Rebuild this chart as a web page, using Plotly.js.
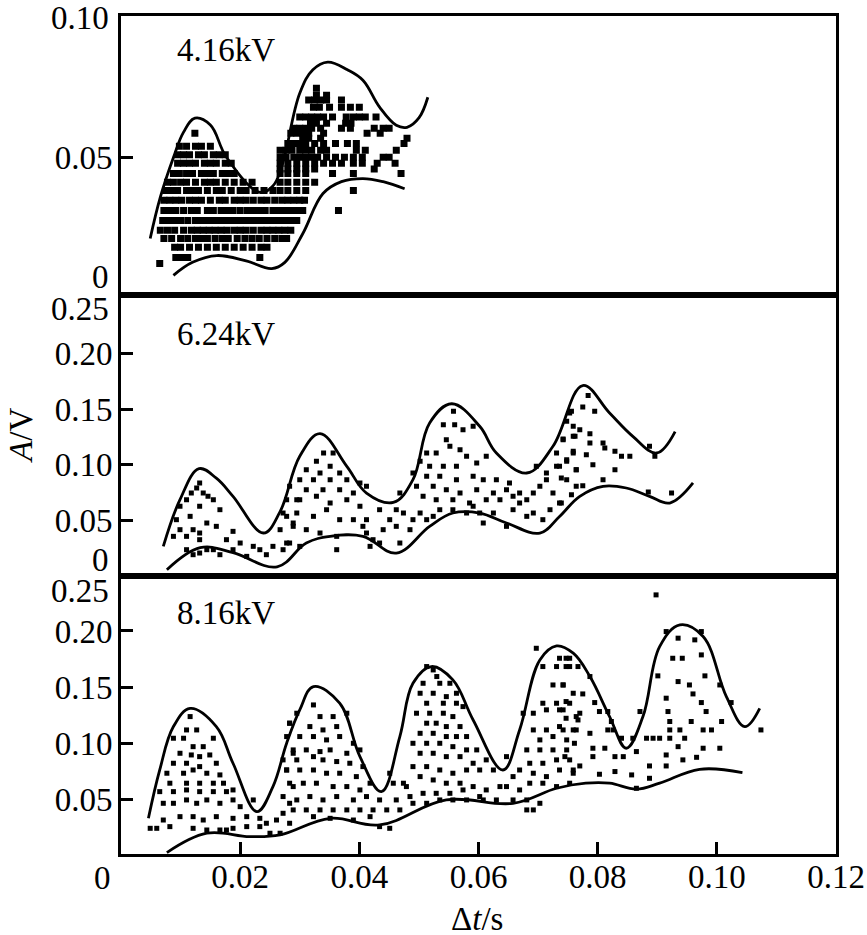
<!DOCTYPE html>
<html>
<head>
<meta charset="utf-8">
<script src="https://cdn.plot.ly/plotly-3.0.1.min.js"></script>
<style>body{margin:0;background:#fff}</style>
</head>
<body>
<div id="chart" style="width:867px;height:935px"></div>
<script>
const FONT = 'Liberation Serif, Times New Roman, serif';

// envelope curves, 4.16 kV
const up416X = [0.0049, 0.0066, 0.0088, 0.0105, 0.0124, 0.0150, 0.0177, 0.0233, 0.0255, 0.0270, 0.0300, 0.0322, 0.0347, 0.0380, 0.0406, 0.0434, 0.0462, 0.0480, 0.0500, 0.0515];
const up416Y = [0.0214, 0.0360, 0.0500, 0.0590, 0.0639, 0.0615, 0.0501, 0.0377, 0.0400, 0.0470, 0.0727, 0.0810, 0.0837, 0.0810, 0.0773, 0.0678, 0.0614, 0.0607, 0.0640, 0.0713];
const lo416X = [0.0088, 0.0120, 0.0161, 0.0210, 0.0253, 0.0275, 0.0305, 0.0339, 0.0370, 0.0406, 0.0440, 0.0476];
const lo416Y = [0.0084, 0.0130, 0.0154, 0.0135, 0.0108, 0.0130, 0.0231, 0.0373, 0.0415, 0.0426, 0.0415, 0.0390];

// envelope curves, 6.24 kV
const up624X = [0.0071, 0.0099, 0.0131, 0.0160, 0.0188, 0.0239, 0.0267, 0.0300, 0.0334, 0.0379, 0.0412, 0.0457, 0.0490, 0.0518, 0.0555, 0.0602, 0.0630, 0.0681, 0.0725, 0.0775, 0.0820, 0.0859, 0.0899, 0.0930];
const up624Y = [0.0266, 0.0687, 0.0966, 0.0880, 0.0717, 0.0387, 0.0580, 0.1077, 0.1282, 0.0987, 0.0747, 0.0662, 0.0867, 0.1377, 0.1550, 0.1347, 0.1107, 0.0927, 0.1167, 0.1714, 0.1467, 0.1257, 0.1107, 0.1300];
const lo624X = [0.0077, 0.0133, 0.0188, 0.0262, 0.0311, 0.0351, 0.0406, 0.0462, 0.0518, 0.0557, 0.0602, 0.0647, 0.0703, 0.0736, 0.0770, 0.0809, 0.0848, 0.0887, 0.0921, 0.0960];
const lo624Y = [0.0056, 0.0255, 0.0210, 0.0083, 0.0297, 0.0357, 0.0357, 0.0207, 0.0447, 0.0567, 0.0567, 0.0477, 0.0387, 0.0536, 0.0717, 0.0807, 0.0792, 0.0717, 0.0657, 0.0837];

// envelope curves, 8.16 kV
const up816X = [0.0046, 0.0065, 0.0088, 0.0116, 0.0160, 0.0188, 0.0228, 0.0255, 0.0278, 0.0300, 0.0323, 0.0367, 0.0401, 0.0437, 0.0468, 0.0490, 0.0521, 0.0557, 0.0591, 0.0641, 0.0669, 0.0703, 0.0731, 0.0759, 0.0787, 0.0820, 0.0848, 0.0876, 0.0904, 0.0938, 0.0977, 0.1016, 0.1047, 0.1072];
const up816Y = [0.0330, 0.0761, 0.1148, 0.1310, 0.1148, 0.0821, 0.0390, 0.0613, 0.1000, 0.1297, 0.1505, 0.1356, 0.0880, 0.0568, 0.1059, 0.1534, 0.1683, 0.1564, 0.1207, 0.0761, 0.1118, 0.1742, 0.1867, 0.1802, 0.1594, 0.1237, 0.0955, 0.1237, 0.1861, 0.2055, 0.1951, 0.1415, 0.1148, 0.1311];
const lo816X = [0.0077, 0.0144, 0.0216, 0.0267, 0.0351, 0.0434, 0.0546, 0.0658, 0.0731, 0.0780, 0.0820, 0.0865, 0.0904, 0.0971, 0.1043];
const lo816Y = [0.0024, 0.0197, 0.0167, 0.0182, 0.0330, 0.0271, 0.0494, 0.0464, 0.0598, 0.0643, 0.0643, 0.0590, 0.0643, 0.0767, 0.0738];

// 4.16 kV measurements, one row per amplitude level: [A, t, t, ...]
const rows416 = [
  [0.0745, 0.0328],
  [0.0720, 0.0328, 0.0345],
  [0.0703, 0.0315, 0.0325, 0.0335, 0.0345, 0.0370],
  [0.0678, 0.0323, 0.0333, 0.0350, 0.0370, 0.0385, 0.0400],
  [0.0643, 0.0300, 0.0310, 0.0320, 0.0330, 0.0340, 0.0355, 0.0378, 0.0390, 0.0400, 0.0410, 0.0428],
  [0.0621, 0.0318, 0.0328, 0.0345, 0.0377, 0.0386],
  [0.0604, 0.0290, 0.0300, 0.0310, 0.0320, 0.0335, 0.0370, 0.0385, 0.0425, 0.0440, 0.0450],
  [0.0586, 0.0124, 0.0285, 0.0295, 0.0305, 0.0315, 0.0340, 0.0413, 0.0435],
  [0.0568, 0.0305, 0.0315, 0.0335, 0.0480],
  [0.0550, 0.0280, 0.0290, 0.0300, 0.0310, 0.0325, 0.0340, 0.0360, 0.0380, 0.0395, 0.0475],
  [0.0540, 0.0098, 0.0110, 0.0125, 0.0135, 0.0150],
  [0.0526, 0.0267, 0.0277, 0.0287, 0.0300, 0.0310, 0.0320, 0.0335, 0.0345, 0.0395, 0.0410, 0.0462],
  [0.0510, 0.0095, 0.0105, 0.0115, 0.0130, 0.0140, 0.0155, 0.0165, 0.0175],
  [0.0501, 0.0267, 0.0277, 0.0290, 0.0300, 0.0310, 0.0320, 0.0330, 0.0345, 0.0360, 0.0375, 0.0390, 0.0405, 0.0440, 0.0450],
  [0.0480, 0.0095, 0.0105, 0.0115, 0.0125, 0.0140, 0.0150, 0.0160, 0.0175, 0.0185, 0.0267, 0.0280, 0.0295, 0.0310, 0.0325, 0.0340, 0.0355, 0.0370, 0.0390, 0.0405, 0.0430, 0.0460],
  [0.0460, 0.0267, 0.0280, 0.0295, 0.0310, 0.0325, 0.0425],
  [0.0444, 0.0088, 0.0098, 0.0110, 0.0120, 0.0135, 0.0145, 0.0155, 0.0170, 0.0180, 0.0190, 0.0267, 0.0280, 0.0295, 0.0310, 0.0355, 0.0390, 0.0470],
  [0.0413, 0.0078, 0.0088, 0.0100, 0.0110, 0.0125, 0.0140, 0.0150, 0.0160, 0.0175, 0.0190, 0.0205, 0.0220, 0.0267, 0.0280, 0.0295, 0.0310, 0.0325],
  [0.0384, 0.0075, 0.0085, 0.0095, 0.0110, 0.0120, 0.0130, 0.0145, 0.0160, 0.0170, 0.0185, 0.0200, 0.0210, 0.0225, 0.0240, 0.0255, 0.0267, 0.0280, 0.0295, 0.0310, 0.0390],
  [0.0349, 0.0072, 0.0082, 0.0092, 0.0102, 0.0115, 0.0125, 0.0135, 0.0150, 0.0165, 0.0175, 0.0190, 0.0200, 0.0210, 0.0222, 0.0235, 0.0245, 0.0258, 0.0270, 0.0280, 0.0290, 0.0300, 0.0308],
  [0.0313, 0.0072, 0.0082, 0.0092, 0.0105, 0.0118, 0.0128, 0.0145, 0.0155, 0.0168, 0.0178, 0.0188, 0.0200, 0.0212, 0.0222, 0.0232, 0.0242, 0.0255, 0.0265, 0.0275, 0.0285, 0.0295, 0.0305, 0.0365],
  [0.0278, 0.0070, 0.0080, 0.0090, 0.0100, 0.0112, 0.0125, 0.0135, 0.0145, 0.0155, 0.0165, 0.0175, 0.0185, 0.0195, 0.0205, 0.0215, 0.0225, 0.0235, 0.0245, 0.0255, 0.0265, 0.0275, 0.0285, 0.0295],
  [0.0243, 0.0066, 0.0078, 0.0090, 0.0105, 0.0118, 0.0128, 0.0138, 0.0148, 0.0158, 0.0168, 0.0178, 0.0190, 0.0200, 0.0210, 0.0222, 0.0235, 0.0245, 0.0255, 0.0265, 0.0275, 0.0285],
  [0.0214, 0.0072, 0.0085, 0.0100, 0.0112, 0.0125, 0.0135, 0.0145, 0.0158, 0.0170, 0.0180, 0.0195, 0.0208, 0.0220, 0.0232, 0.0245, 0.0258, 0.0270, 0.0278],
  [0.0183, 0.0090, 0.0100, 0.0115, 0.0130, 0.0145, 0.0160, 0.0175, 0.0190, 0.0205, 0.0220, 0.0235, 0.0245],
  [0.0147, 0.0092, 0.0102, 0.0112, 0.0233],
  [0.0126, 0.0065]
];

// 6.24 kV measurements [t, A]
const pts624 = [
  [0.0132, 0.0837], [0.0127, 0.0792], [0.0118, 0.0747], [0.0138, 0.0747], [0.0146, 0.0717], [0.0110, 0.0687],
  [0.0155, 0.0687], [0.0099, 0.0627], [0.0132, 0.0627], [0.0166, 0.0597], [0.0093, 0.0507], [0.0116, 0.0537],
  [0.0144, 0.0477], [0.0099, 0.0417], [0.0121, 0.0417], [0.0132, 0.0387], [0.0160, 0.0447], [0.0188, 0.0402],
  [0.0088, 0.0357], [0.0110, 0.0357], [0.0132, 0.0327], [0.0177, 0.0327], [0.0200, 0.0297], [0.0222, 0.0267],
  [0.0155, 0.0237], [0.0188, 0.0237], [0.0233, 0.0237], [0.0255, 0.0267], [0.0132, 0.0207], [0.0166, 0.0192],
  [0.0211, 0.0177], [0.0244, 0.0192], [0.0272, 0.0237], [0.0283, 0.0297], [0.0289, 0.0477], [0.0278, 0.0537],
  [0.0295, 0.0687], [0.0267, 0.0417], [0.0110, 0.0237], [0.0121, 0.0192], [0.0144, 0.0237],
  [0.0340, 0.1107], [0.0356, 0.1107], [0.0328, 0.1032], [0.0351, 0.0987], [0.0311, 0.0957], [0.0367, 0.0927],
  [0.0334, 0.0927], [0.0300, 0.0867], [0.0323, 0.0867], [0.0351, 0.0867], [0.0379, 0.0867], [0.0401, 0.0837],
  [0.0283, 0.0807], [0.0311, 0.0777], [0.0339, 0.0777], [0.0367, 0.0777], [0.0390, 0.0747], [0.0412, 0.0807],
  [0.0278, 0.0687], [0.0300, 0.0687], [0.0328, 0.0717], [0.0351, 0.0657], [0.0379, 0.0687], [0.0401, 0.0627],
  [0.0434, 0.0597], [0.0462, 0.0597], [0.0272, 0.0567], [0.0295, 0.0567], [0.0323, 0.0537], [0.0345, 0.0597],
  [0.0367, 0.0507], [0.0390, 0.0507], [0.0412, 0.0507], [0.0451, 0.0507], [0.0474, 0.0567], [0.0289, 0.0447],
  [0.0311, 0.0417], [0.0334, 0.0387], [0.0362, 0.0357], [0.0406, 0.0447], [0.0412, 0.0387], [0.0423, 0.0327],
  [0.0440, 0.0417], [0.0462, 0.0447], [0.0485, 0.0417], [0.0278, 0.0297], [0.0300, 0.0267], [0.0362, 0.0237],
  [0.0418, 0.0267], [0.0434, 0.0297], [0.0468, 0.0297], [0.0468, 0.0747], [0.0490, 0.0507], [0.0502, 0.0567],
  [0.0558, 0.1483], [0.0541, 0.1362], [0.0560, 0.1362], [0.0574, 0.1317], [0.0591, 0.1347], [0.0546, 0.1227],
  [0.0552, 0.1167], [0.0513, 0.1107], [0.0529, 0.1107], [0.0569, 0.1137], [0.0580, 0.1077], [0.0502, 0.1032],
  [0.0518, 0.0987], [0.0541, 0.0987], [0.0563, 0.0987], [0.0597, 0.1017], [0.0613, 0.1077], [0.0490, 0.0927],
  [0.0513, 0.0897], [0.0535, 0.0897], [0.0563, 0.0867], [0.0591, 0.0897], [0.0608, 0.0867], [0.0630, 0.0867],
  [0.0652, 0.0837], [0.0496, 0.0807], [0.0524, 0.0807], [0.0546, 0.0777], [0.0569, 0.0747], [0.0597, 0.0777],
  [0.0625, 0.0747], [0.0647, 0.0777], [0.0658, 0.0717], [0.0507, 0.0717], [0.0529, 0.0687], [0.0557, 0.0687],
  [0.0585, 0.0657], [0.0613, 0.0687], [0.0636, 0.0687], [0.0669, 0.0747], [0.0669, 0.0657], [0.0681, 0.0687],
  [0.0535, 0.0597], [0.0557, 0.0597], [0.0591, 0.0627], [0.0602, 0.0567], [0.0625, 0.0567], [0.0658, 0.0597],
  [0.0513, 0.0507], [0.0524, 0.0537], [0.0580, 0.0567], [0.0608, 0.0477], [0.0647, 0.0447], [0.0692, 0.0747],
  [0.0703, 0.0807], [0.0714, 0.0867], [0.0692, 0.0567], [0.0708, 0.0507], [0.0681, 0.0537], [0.0720, 0.0597],
  [0.0736, 0.0657], [0.0697, 0.0987], [0.0714, 0.0927], [0.0731, 0.1107], [0.0748, 0.1047], [0.0742, 0.1227],
  [0.0759, 0.1257], [0.0759, 0.1107], [0.0764, 0.0957], [0.0753, 0.1467], [0.0759, 0.1347], [0.0748, 0.0867],
  [0.0764, 0.0807], [0.0725, 0.0747], [0.0731, 0.0987],
  [0.0784, 0.1624], [0.0775, 0.1521], [0.0795, 0.1482], [0.0756, 0.1482], [0.0748, 0.1392], [0.0770, 0.1317],
  [0.0787, 0.1281], [0.0762, 0.1257], [0.0742, 0.1233], [0.0787, 0.1197], [0.0809, 0.1197], [0.0812, 0.1152],
  [0.0829, 0.1122], [0.0840, 0.1077], [0.0854, 0.1077], [0.0759, 0.1122], [0.0781, 0.1092], [0.0748, 0.1032],
  [0.0792, 0.1002], [0.0736, 0.0987], [0.0764, 0.0957], [0.0829, 0.0957], [0.0739, 0.0882], [0.0809, 0.0867],
  [0.0775, 0.0813], [0.0756, 0.0732], [0.0739, 0.0657], [0.0887, 0.1167], [0.0896, 0.1077], [0.0885, 0.0756],
  [0.0924, 0.0747]
];

// 8.16 kV measurements [t, A]
const pts816 = [
  [0.0116, 0.1237], [0.0110, 0.1118], [0.0127, 0.1118], [0.0088, 0.1044], [0.0105, 0.1044], [0.0155, 0.1044],
  [0.0121, 0.0969], [0.0138, 0.0969], [0.0099, 0.0910], [0.0118, 0.0895], [0.0132, 0.0880], [0.0149, 0.0895],
  [0.0088, 0.0821], [0.0110, 0.0821], [0.0132, 0.0791], [0.0160, 0.0821], [0.0077, 0.0732], [0.0105, 0.0732],
  [0.0121, 0.0761], [0.0144, 0.0732], [0.0166, 0.0717], [0.0082, 0.0643], [0.0110, 0.0643], [0.0132, 0.0643],
  [0.0155, 0.0643], [0.0172, 0.0643], [0.0065, 0.0568], [0.0088, 0.0568], [0.0110, 0.0583], [0.0132, 0.0568],
  [0.0155, 0.0568], [0.0177, 0.0568], [0.0188, 0.0583], [0.0071, 0.0464], [0.0088, 0.0464], [0.0110, 0.0494],
  [0.0127, 0.0464], [0.0144, 0.0494], [0.0166, 0.0464], [0.0188, 0.0494], [0.0200, 0.0434], [0.0222, 0.0494],
  [0.0071, 0.0315], [0.0099, 0.0345], [0.0121, 0.0345], [0.0138, 0.0315], [0.0160, 0.0345], [0.0188, 0.0330],
  [0.0211, 0.0345], [0.0233, 0.0330], [0.0049, 0.0241], [0.0060, 0.0241], [0.0082, 0.0256], [0.0121, 0.0241],
  [0.0144, 0.0226], [0.0166, 0.0226], [0.0177, 0.0226], [0.0188, 0.0241], [0.0211, 0.0256], [0.0233, 0.0256],
  [0.0244, 0.0286], [0.0261, 0.0315], [0.0272, 0.0375], [0.0283, 0.0464], [0.0289, 0.0613], [0.0278, 0.0761],
  [0.0289, 0.0910], [0.0283, 0.1178], [0.0250, 0.0197], [0.0267, 0.0197],
  [0.0323, 0.1341], [0.0295, 0.1267], [0.0334, 0.1237], [0.0356, 0.1237], [0.0283, 0.1178], [0.0317, 0.1148],
  [0.0339, 0.1118], [0.0362, 0.1148], [0.0379, 0.1267], [0.0278, 0.1059], [0.0300, 0.1059], [0.0323, 0.1059],
  [0.0345, 0.1029], [0.0367, 0.1059], [0.0390, 0.0999], [0.0289, 0.0940], [0.0311, 0.0940], [0.0334, 0.0925],
  [0.0351, 0.0940], [0.0379, 0.0910], [0.0401, 0.0940], [0.0272, 0.0851], [0.0295, 0.0851], [0.0323, 0.0880],
  [0.0339, 0.0851], [0.0362, 0.0836], [0.0384, 0.0821], [0.0406, 0.0791], [0.0278, 0.0761], [0.0300, 0.0761],
  [0.0323, 0.0761], [0.0345, 0.0732], [0.0367, 0.0732], [0.0395, 0.0702], [0.0418, 0.0643], [0.0283, 0.0643],
  [0.0306, 0.0643], [0.0328, 0.0643], [0.0356, 0.0613], [0.0379, 0.0613], [0.0401, 0.0583], [0.0272, 0.0524],
  [0.0295, 0.0494], [0.0317, 0.0524], [0.0339, 0.0494], [0.0362, 0.0524], [0.0390, 0.0494], [0.0412, 0.0524],
  [0.0434, 0.0494], [0.0289, 0.0405], [0.0311, 0.0405], [0.0334, 0.0405], [0.0356, 0.0405], [0.0379, 0.0405],
  [0.0401, 0.0405], [0.0423, 0.0405], [0.0446, 0.0405], [0.0468, 0.0405], [0.0283, 0.0286], [0.0323, 0.0345],
  [0.0351, 0.0330], [0.0390, 0.0315], [0.0434, 0.0256], [0.0451, 0.0241], [0.0418, 0.0345], [0.0457, 0.0643],
  [0.0451, 0.0732], [0.0474, 0.0643], [0.0462, 0.0494], [0.0485, 0.0524],
  [0.0513, 0.1683], [0.0524, 0.1653], [0.0530, 0.1594], [0.0507, 0.1534], [0.0535, 0.1534], [0.0552, 0.1534],
  [0.0502, 0.1445], [0.0524, 0.1445], [0.0546, 0.1415], [0.0563, 0.1445], [0.0513, 0.1356], [0.0541, 0.1356],
  [0.0563, 0.1356], [0.0574, 0.1326], [0.0496, 0.1267], [0.0518, 0.1267], [0.0541, 0.1267], [0.0557, 0.1237],
  [0.0513, 0.1178], [0.0529, 0.1178], [0.0546, 0.1148], [0.0569, 0.1148], [0.0502, 0.1088], [0.0524, 0.1088],
  [0.0546, 0.1059], [0.0563, 0.1059], [0.0580, 0.1059], [0.0490, 0.0999], [0.0513, 0.0999], [0.0535, 0.0999],
  [0.0557, 0.0969], [0.0580, 0.0940], [0.0597, 0.0940], [0.0502, 0.0910], [0.0524, 0.0910], [0.0546, 0.0880],
  [0.0569, 0.0880], [0.0591, 0.0821], [0.0613, 0.0851], [0.0490, 0.0791], [0.0513, 0.0791], [0.0535, 0.0761],
  [0.0557, 0.0732], [0.0580, 0.0761], [0.0602, 0.0761], [0.0625, 0.0761], [0.0502, 0.0702], [0.0524, 0.0672],
  [0.0546, 0.0643], [0.0569, 0.0643], [0.0591, 0.0613], [0.0613, 0.0583], [0.0636, 0.0613], [0.0507, 0.0553],
  [0.0529, 0.0553], [0.0552, 0.0553], [0.0574, 0.0583], [0.0602, 0.0524], [0.0647, 0.0613], [0.0479, 0.0613],
  [0.0490, 0.0464], [0.0513, 0.0464], [0.0535, 0.0494], [0.0557, 0.0494], [0.0580, 0.0494], [0.0608, 0.0494],
  [0.0630, 0.0494], [0.0658, 0.0494], [0.0681, 0.0405], [0.0692, 0.0405], [0.0669, 0.0583],
  [0.0697, 0.1846], [0.0736, 0.1757], [0.0753, 0.1757], [0.0708, 0.1683], [0.0731, 0.1683], [0.0753, 0.1683],
  [0.0725, 0.1519], [0.0742, 0.1519], [0.0759, 0.1445], [0.0708, 0.1356], [0.0731, 0.1356], [0.0753, 0.1356],
  [0.0675, 0.1267], [0.0692, 0.1267], [0.0714, 0.1297], [0.0742, 0.1297], [0.0764, 0.1237], [0.0692, 0.1118],
  [0.0714, 0.1118], [0.0736, 0.1148], [0.0759, 0.1118], [0.0703, 0.1029], [0.0725, 0.1059], [0.0748, 0.1029],
  [0.0681, 0.0940], [0.0703, 0.0940], [0.0725, 0.0940], [0.0748, 0.0940], [0.0686, 0.0821], [0.0708, 0.0821],
  [0.0731, 0.0851], [0.0753, 0.0851], [0.0669, 0.0761], [0.0692, 0.0732], [0.0714, 0.0702], [0.0736, 0.0761],
  [0.0759, 0.0761], [0.0686, 0.0643], [0.0708, 0.0643], [0.0731, 0.0613], [0.0753, 0.0643], [0.0647, 0.0880],
  [0.0658, 0.0702], [0.0681, 0.0494], [0.0703, 0.0464],
  [0.0898, 0.2322], [0.0915, 0.1995], [0.0974, 0.1995], [0.0935, 0.1936], [0.0963, 0.1921], [0.0747, 0.1757],
  [0.0926, 0.1757], [0.0942, 0.1757], [0.0974, 0.1787], [0.0747, 0.1683], [0.0767, 0.1683], [0.0901, 0.1600],
  [0.0980, 0.1600], [0.0787, 0.1594], [0.0935, 0.1549], [0.0954, 0.1519], [0.1005, 0.1519], [0.0742, 0.1519],
  [0.0960, 0.1439], [0.0775, 0.1439], [0.0915, 0.1401], [0.0747, 0.1371], [0.0795, 0.1362], [0.0974, 0.1362],
  [0.1024, 0.1362], [0.0736, 0.1297], [0.0770, 0.1267], [0.0803, 0.1282], [0.0817, 0.1282], [0.0871, 0.1282],
  [0.0918, 0.1282], [0.0982, 0.1282], [0.0747, 0.1222], [0.0767, 0.1207], [0.0823, 0.1193], [0.0921, 0.1193],
  [0.0957, 0.1193], [0.1008, 0.1193], [0.0742, 0.1118], [0.0764, 0.1118], [0.0787, 0.1088], [0.0817, 0.1118],
  [0.0826, 0.1118], [0.0840, 0.1044], [0.0859, 0.1044], [0.0882, 0.1044], [0.0893, 0.1044], [0.0904, 0.1044],
  [0.0921, 0.1044], [0.0946, 0.1044], [0.0921, 0.1118], [0.0938, 0.1118], [0.0977, 0.1118], [0.0991, 0.1118],
  [0.1074, 0.1118], [0.0761, 0.0999], [0.0792, 0.0955], [0.0812, 0.0955], [0.0865, 0.0925], [0.0935, 0.0969],
  [0.0977, 0.0955], [0.1005, 0.0955], [0.0745, 0.0880], [0.0792, 0.0880], [0.0829, 0.0880], [0.0843, 0.0880],
  [0.0915, 0.0895], [0.0966, 0.0874], [0.0943, 0.0851], [0.0770, 0.0797], [0.0803, 0.0723], [0.0829, 0.0747],
  [0.0857, 0.0717], [0.0887, 0.0797], [0.0915, 0.0797], [0.0887, 0.0687], [0.0865, 0.0598], [0.0759, 0.0732]
];

const xTicks = [0.02, 0.04, 0.06, 0.08, 0.10, 0.12];
const xTickText = ['0.02', '0.04', '0.06', '0.08', '0.10', '0.12'];
const yTicksTop = [0.05];
const yTickTextTop = ['0.05'];
const yTicks = [0.05, 0.10, 0.15, 0.20];
const yTickText = ['0.05', '0.10', '0.15', '0.20'];

function fromRows(rows) {
  const x = [], y = [];
  rows.forEach(r => r.slice(1).forEach(t => { x.push(t); y.push(r[0]); }));
  return {x, y};
}
function fromPairs(p) {
  return {x: p.map(d => d[0]), y: p.map(d => d[1])};
}

const dots = (size) => ({mode: 'markers', type: 'scatter', marker: {symbol: 'square', size: size, color: '#000'}, hoverinfo: 'none'});
const curve = {mode: 'lines', type: 'scatter', line: {color: '#000', width: 2.8, shape: 'spline', smoothing: 1.1}, hoverinfo: 'none'};

const p416 = fromRows(rows416);
const p624 = fromPairs(pts624);
const p816 = fromPairs(pts816);

const data = [
  Object.assign(dots(7), {x: p416.x, y: p416.y, xaxis: 'x3', yaxis: 'y3'}),
  Object.assign({}, curve, {x: up416X, y: up416Y, xaxis: 'x3', yaxis: 'y3'}),
  Object.assign({}, curve, {x: lo416X, y: lo416Y, xaxis: 'x3', yaxis: 'y3'}),
  Object.assign(dots(5), {x: p624.x, y: p624.y, xaxis: 'x2', yaxis: 'y2'}),
  Object.assign({}, curve, {x: up624X, y: up624Y, xaxis: 'x2', yaxis: 'y2'}),
  Object.assign({}, curve, {x: lo624X, y: lo624Y, xaxis: 'x2', yaxis: 'y2'}),
  Object.assign(dots(5), {x: p816.x, y: p816.y, xaxis: 'x', yaxis: 'y'}),
  Object.assign({}, curve, {x: up816X, y: up816Y, xaxis: 'x', yaxis: 'y'}),
  Object.assign({}, curve, {x: lo816X, y: lo816Y, xaxis: 'x', yaxis: 'y'})
];

const tickFont = {family: FONT, size: 33, color: '#000'};
const frame = {
  showline: true, linewidth: 3, linecolor: '#000', mirror: true,
  showgrid: false, zeroline: false, fixedrange: true
};
const yAxisBase = Object.assign({}, frame, {
  ticks: 'inside', ticklen: 12, tickwidth: 3, tickcolor: '#000',
  tickfont: tickFont, ticklabelstandoff: -1
});

// text placed by hand, as in the figure (labels pulled inward at the panel joins)
function note(text, x, y, extra) {
  return Object.assign({
    text: text, xref: 'paper', yref: 'paper', x: x, y: y,
    xanchor: 'center', yanchor: 'middle', showarrow: false, font: tickFont
  }, extra || {});
}

const layout = {
  width: 867,
  height: 935,
  margin: {l: 121, r: 31, t: 16, b: 81},
  paper_bgcolor: '#fff',
  plot_bgcolor: '#fff',
  showlegend: false,
  font: {family: FONT, color: '#000'},
  xaxis: Object.assign({}, frame, {
    domain: [0, 1], range: [0, 0.12], anchor: 'y',
    ticks: 'inside', ticklen: 12, tickwidth: 3, tickcolor: '#000',
    tickvals: xTicks, ticktext: xTickText,
    tickfont: tickFont, ticklabelstandoff: -9
  }),
  xaxis2: Object.assign({}, frame, {matches: 'x', anchor: 'y2', range: [0, 0.12], showticklabels: false, ticks: ''}),
  xaxis3: Object.assign({}, frame, {matches: 'x', anchor: 'y3', range: [0, 0.12], showticklabels: false, ticks: ''}),
  yaxis: Object.assign({}, yAxisBase, {
    domain: [0, 0.3317], range: [0.0012, 0.249], anchor: 'x',
    tickvals: yTicks, ticktext: yTickText
  }),
  yaxis2: Object.assign({}, yAxisBase, {
    domain: [0.3317, 0.6665], range: [0, 0.2524], anchor: 'x2',
    tickvals: yTicks, ticktext: yTickText
  }),
  yaxis3: Object.assign({}, yAxisBase, {
    domain: [0.6665, 1], range: [0.0013, 0.10], anchor: 'x3',
    tickvals: yTicksTop, ticktext: yTickTextTop
  }),
  annotations: [
    note('4.16kV', 0.1469, 0.9594),
    note('6.24kV', 0.1469, 0.6205),
    note('8.16kV', 0.1469, 0.2876),
    note('0.10', -0.014, 0.998, {xanchor: 'right'}),
    note('0', -0.014, 0.6885, {xanchor: 'right'}),
    note('0.25', -0.014, 0.6504, {xanchor: 'right'}),
    note('0', -0.014, 0.3508, {xanchor: 'right'}),
    note('0.25', -0.014, 0.3138, {xanchor: 'right'}),
    note('0', -0.0252, -0.0286),
    note('<i>A</i>/V', -0.140, 0.5, {textangle: -90}),
    note('Δ<i>t</i>/s', 0.498, -0.077)
  ]
};

Plotly.newPlot('chart', data, layout, {displayModeBar: false, staticPlot: true});
</script>
</body>
</html>
